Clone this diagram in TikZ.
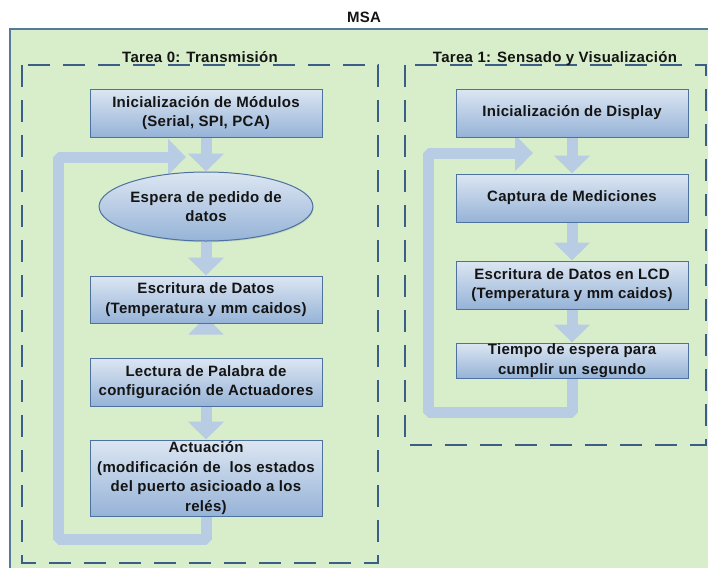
\documentclass[tikz,border=0pt]{standalone}
\usepackage{fontspec}
\setmainfont[LetterSpace=2]{Liberation Sans}
\usetikzlibrary{arrows.meta,shapes.geometric,calc,shadows}
\definecolor{bggreen}{HTML}{D8EDC9}
\definecolor{outerc}{HTML}{56799C}
\definecolor{dashc}{HTML}{3B5E87}
\definecolor{boxtop}{HTML}{DCE6F2}
\definecolor{boxbot}{HTML}{96B3D7}
\definecolor{boxline}{HTML}{4D72A0}
\definecolor{arrowc}{HTML}{B8CCE4}
\definecolor{txt}{HTML}{141414}
\pgfdeclarelayer{back}
\pgfdeclarelayer{mid}
\pgfsetlayers{back,mid,main}
\tikzset{
  lbl/.style={font=\bfseries\fontsize{15}{19.5}\selectfont, text=txt, inner sep=0pt},
  procbox/.style={lbl, draw=boxline, line width=1pt, top color=boxtop, bottom color=boxbot,
    minimum width=232pt, align=center,
    drop shadow={shadow xshift=0.8pt, shadow yshift=-1.2pt, opacity=0.25}},
  waitell/.style={lbl, ellipse, draw=boxline, line width=1pt, top color=boxtop, bottom color=boxbot,
    minimum width=196pt, minimum height=69pt, align=center,
    drop shadow={shadow xshift=0.8pt, shadow yshift=-1.2pt, opacity=0.25}},
  taskframe/.style={draw=dashc, line width=2.5pt, dash pattern=on 22pt off 13pt},
  flow/.style={draw=arrowc, line width=11pt, line join=bevel,
    -{Triangle[length=18pt,width=35pt]}},
}
\begin{document}
\begin{tikzpicture}[x=1pt,y=-1pt]
\useasboundingbox (0,0) rectangle (708,568);
\begin{pgfonlayer}{back}
  \fill[white] (0,0) rectangle (708,568);
  \fill[bggreen] (10,29) rectangle (708,568);
  \draw[outerc, line width=2pt] (10,568) -- (10,29) -- (708,29);
  \draw[taskframe] (22,65) rectangle (378,563);
  \draw[taskframe] (405,65) rectangle (706,445);
\end{pgfonlayer}

\node[lbl, anchor=base] (msa) at (364,22) {MSA};
\node[lbl, anchor=base] (t0) at (200,62) {Tarea 0: Transmisión};
\node[lbl, anchor=base] (t1) at (555,62) {Tarea 1: Sensado y Visualización};

% Left column
\node[procbox, minimum height=48pt] (m1) at (206,113) {Inicialización de Módulos\\(Serial, SPI, PCA)};
\node[waitell] (esp) at (206,206.5) {Espera de pedido de\\datos};
\node[procbox, minimum height=47pt] (esc) at (206,299.5) {Escritura de Datos\\(Temperatura y mm caidos)};
\node[procbox, minimum height=48pt] (lec) at (206,382) {Lectura de Palabra de\\configuración de Actuadores};
\node[procbox, minimum height=76pt] (act) at (206,478) {Actuación\\(modificación de\ \ los estados\\del puerto asicioado a los\\relés)};

% Right column
\node[procbox, minimum height=48pt] (dis) at (572,113) {Inicialización de Display};
\node[procbox, minimum height=48pt] (cap) at (572,198) {Captura de Mediciones};
\node[procbox, minimum height=48pt] (lcd) at (572,285) {Escritura de Datos en LCD\\(Temperatura y mm caidos)};
\node[procbox, minimum height=35pt] (tie) at (572,360.5) {Tiempo de espera para\\cumplir un segundo};

\coordinate (l0a) at (58,539);
\coordinate (l0b) at (186,157);
\coordinate (r0a) at (428,412);
\coordinate (r0b) at (533,153);

\begin{pgfonlayer}{mid}
  \draw[flow] (m1.south) -- (esp.north);
  \draw[flow] (esp.south) -- (esc.north);
  \draw[flow] (lec.south) -- (act.north);
  \fill[arrowc] ($(esc.south)+(-17.5,11)$) -- ($(esc.south)+(17.5,11)$) -- ($(esc.south)+(0,-7)$) -- cycle;
  \draw[flow] (act.south) |- (l0a) |- (l0b);
  \draw[flow] (dis.south) -- (cap.north);
  \draw[flow] (cap.south) -- (lcd.north);
  \draw[flow] (lcd.south) -- (tie.north);
  \draw[flow] (tie.south) |- (r0a) |- (r0b);
\end{pgfonlayer}
\end{tikzpicture}
\end{document}
